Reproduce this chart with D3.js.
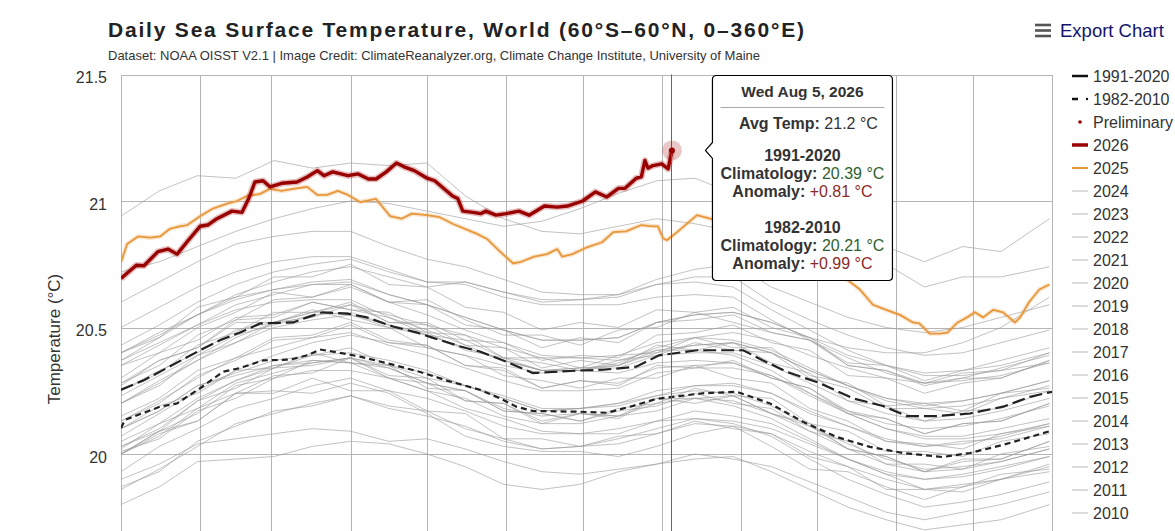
<!DOCTYPE html>
<html><head><meta charset="utf-8">
<script src="https://cdn.jsdelivr.net/npm/d3@7/dist/d3.min.js"></script>
<style>
html,body{margin:0;padding:0;background:#fff;overflow:hidden;}
svg{display:block;font-family:"Liberation Sans",Arial,Helvetica,sans-serif;}
</style></head><body>
<svg id="chart" width="1175" height="531"></svg>
<script>
// ---------------- DATA ----------------
const titleText = "Daily Sea Surface Temperature, World (60°S–60°N, 0–360°E)";
const subtitleText = "Dataset: NOAA OISST V2.1 | Image Credit: ClimateReanalyzer.org, Climate Change Institute, University of Maine";
const yTicks = [20, 20.5, 21, 21.5];
const monthStartDays = [0,31,59,90,120,151,181,212,243,273,304,334,365];
const sampleDays = [0,15,30,45,60,75,90,105,120,135,150,165,180,195,210,225,240,255,270,285,300,315,330,345,364];

// [day of year, °C]
const series2026 = [[0,20.694],[6,20.746],[9,20.744],[14.5,20.80],[18.4,20.81],[22,20.79],[26,20.84],[31,20.90],[34,20.905],[37.6,20.93],[43.5,20.96],[47.4,20.955],[50,21.008],[52.5,21.075],[55.7,21.08],[58.4,21.056],[63,21.07],[69,21.075],[73,21.095],[77,21.12],[79.6,21.10],[83,21.115],[89,21.10],[93,21.107],[97,21.087],[100,21.087],[104,21.115],[108,21.15],[111,21.135],[115,21.12],[120,21.09],[123,21.08],[130,21.02],[132,21.01],[134,20.96],[138,20.955],[141,20.95],[143,20.96],[147,20.944],[151,20.95],[156,20.96],[160,20.944],[166,20.98],[171,20.976],[175,20.98],[181,21.0],[186,21.036],[190.5,21.016],[195,21.05],[197.6,21.05],[202,21.09],[204,21.095],[205.4,21.16],[206.6,21.13],[208.6,21.14],[212,21.147],[214.5,21.127],[216,21.20]];

const series2025 = [[0,20.758],[2.4,20.83],[6.7,20.86],[11.4,20.855],[15.3,20.86],[19.2,20.89],[23,20.90],[26,20.905],[31,20.94],[36,20.97],[41.6,20.99],[45.5,21.0],[49.4,21.02],[54.5,21.028],[58.4,21.048],[63,21.04],[67.4,21.048],[73,21.056],[77,21.024],[80.8,21.024],[85,21.04],[89,21.024],[93.7,20.996],[100,21.008],[105.5,20.94],[110,20.93],[114,20.95],[120,20.944],[125,20.936],[130,20.91],[139.6,20.87],[143.5,20.85],[148.6,20.80],[153.7,20.754],[156.4,20.758],[162,20.78],[167,20.79],[171,20.81],[173,20.78],[177,20.79],[182.7,20.817],[188.6,20.837],[193,20.877],[198,20.88],[204,20.905],[208.6,20.90],[210.5,20.90],[212.5,20.853],[214,20.845],[218,20.877],[225.8,20.944],[231,20.93],[243,20.90],[254,20.85],[266,20.80],[278,20.74],[284.6,20.69],[289.7,20.65],[294.8,20.59],[300,20.57],[305.4,20.55],[310.5,20.52],[313,20.516],[317,20.476],[321,20.476],[324,20.48],[328,20.52],[331.7,20.54],[334.8,20.56],[338,20.54],[342,20.57],[345.8,20.56],[350.5,20.52],[352.5,20.54],[356,20.6],[360,20.65],[364,20.67]];

const clim1991_2020 = [[0,20.254],[8.6,20.29],[18,20.34],[31,20.41],[38.8,20.45],[46.7,20.48],[54.5,20.516],[67.4,20.52],[73,20.54],[79,20.56],[88.6,20.555],[96.4,20.54],[106.6,20.504],[116,20.48],[122,20.46],[133,20.425],[140.7,20.405],[151,20.365],[161.5,20.32],[180,20.33],[189,20.333],[202,20.345],[211,20.39],[225.8,20.41],[243.9,20.41],[251.7,20.37],[261,20.325],[274,20.28],[287,20.22],[298.7,20.19],[308,20.15],[320,20.15],[332.8,20.16],[345.8,20.187],[356.4,20.226],[365,20.246]];

const clim1982_2010 = [[0,20.103],[1.6,20.135],[4.7,20.147],[15.3,20.187],[22,20.20],[31,20.26],[40,20.325],[46.7,20.34],[55.7,20.37],[66.3,20.373],[73,20.39],[78,20.413],[85.9,20.40],[93.7,20.385],[106.6,20.353],[117,20.325],[127.8,20.29],[140.7,20.254],[148.6,20.22],[155,20.187],[161.5,20.17],[180,20.167],[190.5,20.163],[199.6,20.187],[210,20.218],[228,20.24],[241.5,20.246],[254.4,20.20],[267.4,20.127],[280.7,20.067],[293.6,20.028],[306.6,20.004],[322,19.988],[332.8,20.004],[345.8,20.036],[356.4,20.067],[364,20.09]];

// other years, values at sampleDays
const grayYears = [2024,2023,2022,2021,2020,2019,2018,2017,2016,2015,2014,2013,2012,2011,2010,2009,2008,2007,2006,2005,2004,2003,2002,2001,2000,1999,1998,1997,1996,1995,1994,1993,1992,1991,1990,1989,1988,1987,1986,1985,1984,1983,1982];
const grayTemps = [
[20.94,21.04,21.10,21.09,21.16,21.13,21.15,21.14,21.15,21.02,20.93,20.88,20.87,20.90,20.93,20.91,20.88,20.84,20.80,20.77,20.75,20.66,20.70,20.70,20.74],
[20.72,20.76,20.82,20.88,20.93,20.97,21.00,20.99,20.96,20.93,20.90,20.92,20.97,21.03,21.08,21.09,21.03,20.95,20.88,20.84,20.82,20.76,20.82,20.80,20.93],
[20.40,20.48,20.55,20.62,20.65,20.68,20.69,20.63,20.59,20.54,20.49,20.45,20.45,20.46,20.52,20.55,20.56,20.52,20.46,20.42,20.40,20.40,20.44,20.50,20.62],
[20.35,20.40,20.50,20.56,20.64,20.62,20.66,20.60,20.61,20.53,20.47,20.47,20.43,20.49,20.50,20.56,20.52,20.48,20.45,20.36,20.35,20.29,20.33,20.35,20.40],
[20.50,20.58,20.66,20.72,20.76,20.78,20.78,20.73,20.68,20.67,20.62,20.59,20.59,20.59,20.62,20.63,20.62,20.53,20.45,20.38,20.32,20.28,20.29,20.31,20.36],
[20.43,20.51,20.60,20.67,20.72,20.75,20.77,20.72,20.68,20.68,20.64,20.61,20.61,20.62,20.67,20.70,20.70,20.60,20.53,20.47,20.42,20.39,20.40,20.44,20.49],
[20.35,20.43,20.51,20.59,20.63,20.67,20.68,20.63,20.59,20.54,20.49,20.45,20.45,20.46,20.52,20.55,20.56,20.52,20.46,20.39,20.35,20.32,20.33,20.37,20.42],
[20.40,20.46,20.58,20.62,20.70,20.70,20.75,20.67,20.66,20.58,20.56,20.49,20.52,20.50,20.57,20.56,20.58,20.50,20.46,20.35,20.33,20.27,20.30,20.30,20.37],
[20.60,20.68,20.76,20.83,20.86,20.88,20.88,20.82,20.77,20.74,20.69,20.64,20.63,20.63,20.67,20.68,20.66,20.57,20.49,20.41,20.35,20.31,20.31,20.33,20.36],
[20.37,20.46,20.55,20.63,20.68,20.72,20.74,20.70,20.66,20.68,20.64,20.60,20.61,20.63,20.69,20.73,20.75,20.66,20.60,20.54,20.50,20.48,20.50,20.54,20.59],
[20.28,20.35,20.47,20.53,20.61,20.62,20.67,20.60,20.59,20.51,20.49,20.42,20.46,20.44,20.52,20.53,20.55,20.48,20.45,20.35,20.33,20.28,20.32,20.33,20.40],
[20.27,20.37,20.42,20.53,20.54,20.60,20.57,20.56,20.48,20.47,20.38,20.38,20.34,20.39,20.40,20.46,20.42,20.42,20.31,20.28,20.19,20.20,20.17,20.24,20.26],
[20.20,20.29,20.37,20.46,20.52,20.56,20.59,20.55,20.51,20.47,20.42,20.38,20.38,20.39,20.44,20.46,20.45,20.41,20.34,20.27,20.21,20.18,20.19,20.22,20.27],
[20.13,20.20,20.31,20.37,20.45,20.46,20.51,20.44,20.43,20.35,20.33,20.26,20.29,20.27,20.35,20.34,20.37,20.30,20.26,20.16,20.14,20.08,20.12,20.13,20.20],
[20.37,20.44,20.51,20.57,20.60,20.61,20.61,20.54,20.49,20.43,20.37,20.33,20.33,20.32,20.36,20.37,20.36,20.31,20.23,20.16,20.10,20.07,20.07,20.10,20.14],
[20.20,20.27,20.39,20.44,20.52,20.54,20.59,20.52,20.52,20.45,20.44,20.37,20.39,20.38,20.47,20.48,20.51,20.44,20.41,20.31,20.30,20.24,20.28,20.30,20.37],
[20.13,20.21,20.30,20.38,20.42,20.46,20.48,20.43,20.39,20.34,20.29,20.25,20.25,20.26,20.32,20.34,20.34,20.31,20.24,20.17,20.12,20.10,20.11,20.14,20.19],
[20.28,20.37,20.42,20.52,20.52,20.57,20.53,20.50,20.42,20.39,20.31,20.29,20.26,20.30,20.30,20.35,20.30,20.28,20.18,20.13,20.05,20.04,20.02,20.08,20.11],
[20.23,20.31,20.39,20.47,20.51,20.55,20.56,20.51,20.47,20.42,20.37,20.33,20.33,20.35,20.40,20.43,20.44,20.40,20.33,20.27,20.22,20.19,20.21,20.24,20.29],
[20.25,20.32,20.43,20.48,20.56,20.56,20.60,20.52,20.51,20.43,20.42,20.34,20.37,20.35,20.43,20.41,20.44,20.36,20.32,20.21,20.19,20.13,20.17,20.18,20.25],
[20.25,20.33,20.40,20.49,20.52,20.56,20.55,20.51,20.48,20.41,20.38,20.33,20.34,20.34,20.39,20.40,20.40,20.35,20.28,20.21,20.16,20.13,20.14,20.17,20.22],
[20.30,20.40,20.45,20.54,20.55,20.60,20.57,20.54,20.47,20.45,20.38,20.36,20.33,20.37,20.39,20.44,20.41,20.40,20.30,20.26,20.18,20.18,20.16,20.22,20.25],
[20.20,20.28,20.37,20.44,20.50,20.53,20.55,20.50,20.47,20.42,20.37,20.33,20.34,20.35,20.41,20.43,20.44,20.40,20.33,20.27,20.22,20.20,20.21,20.24,20.29],
[20.15,20.22,20.33,20.38,20.46,20.47,20.52,20.45,20.43,20.35,20.34,20.26,20.29,20.28,20.34,20.35,20.36,20.30,20.26,20.17,20.14,20.08,20.12,20.13,20.20],
[20.03,20.10,20.21,20.29,20.34,20.39,20.40,20.37,20.33,20.27,20.23,20.18,20.18,20.20,20.25,20.27,20.27,20.24,20.17,20.11,20.05,20.03,20.04,20.07,20.12],
[20.10,20.19,20.24,20.33,20.34,20.40,20.36,20.34,20.28,20.25,20.17,20.16,20.13,20.17,20.19,20.24,20.20,20.18,20.09,20.05,19.96,19.96,19.94,20.00,20.03],
[20.40,20.47,20.55,20.61,20.65,20.67,20.67,20.60,20.55,20.49,20.44,20.39,20.38,20.37,20.41,20.41,20.39,20.33,20.24,20.16,20.10,20.06,20.06,20.08,20.12],
[20.07,20.16,20.25,20.33,20.39,20.44,20.47,20.44,20.42,20.39,20.35,20.32,20.33,20.36,20.42,20.46,20.48,20.45,20.39,20.34,20.30,20.28,20.30,20.34,20.39],
[20.03,20.09,20.21,20.26,20.34,20.35,20.38,20.31,20.30,20.21,20.20,20.13,20.16,20.14,20.22,20.20,20.23,20.16,20.11,20.02,19.99,19.93,19.97,19.98,20.05],
[20.10,20.17,20.27,20.32,20.37,20.39,20.42,20.35,20.32,20.27,20.22,20.17,20.18,20.19,20.23,20.25,20.24,20.19,20.11,20.04,19.98,19.94,19.95,19.97,20.02],
[20.00,20.09,20.16,20.27,20.30,20.37,20.36,20.35,20.26,20.25,20.17,20.16,20.13,20.18,20.20,20.26,20.23,20.22,20.12,20.09,20.01,20.01,19.99,20.05,20.08],
[19.93,20.03,20.10,20.18,20.22,20.27,20.30,20.25,20.22,20.17,20.11,20.08,20.08,20.10,20.13,20.17,20.15,20.12,20.05,19.98,19.93,19.90,19.91,19.94,19.99],
[20.00,20.08,20.13,20.24,20.24,20.30,20.25,20.25,20.17,20.16,20.06,20.06,20.03,20.07,20.08,20.13,20.10,20.08,19.99,19.95,19.86,19.86,19.85,19.90,19.93],
[20.05,20.12,20.22,20.29,20.35,20.36,20.38,20.34,20.28,20.25,20.18,20.15,20.16,20.15,20.20,20.22,20.21,20.16,20.09,20.02,19.96,19.93,19.94,19.97,20.02],
[20.00,20.07,20.18,20.24,20.31,20.32,20.38,20.30,20.28,20.21,20.20,20.12,20.16,20.15,20.22,20.22,20.23,20.16,20.12,20.02,19.99,19.93,19.98,19.98,20.05],
[19.87,19.93,20.05,20.11,20.17,20.19,20.23,20.18,20.15,20.11,20.05,20.02,20.03,20.04,20.08,20.12,20.11,20.08,20.01,19.95,19.90,19.86,19.88,19.90,19.96],
[20.10,20.17,20.27,20.31,20.35,20.37,20.36,20.30,20.25,20.18,20.14,20.09,20.08,20.08,20.13,20.14,20.12,20.07,19.98,19.90,19.84,19.79,19.81,19.84,19.89],
[20.02,20.12,20.18,20.28,20.32,20.36,20.38,20.35,20.30,20.27,20.22,20.17,20.18,20.20,20.23,20.27,20.28,20.24,20.16,20.11,20.06,20.03,20.05,20.06,20.11],
[19.86,19.94,20.03,20.12,20.16,20.20,20.23,20.19,20.17,20.10,20.06,20.02,20.03,20.06,20.10,20.14,20.13,20.10,20.04,19.98,19.92,19.90,19.92,19.95,19.99],
[19.80,19.87,19.97,19.98,19.99,20.03,20.05,20.04,20.00,19.95,19.88,19.86,19.88,19.93,19.96,20.00,19.98,19.95,19.89,19.83,19.77,19.74,19.77,19.80,19.85],
[19.90,19.96,20.04,20.06,20.08,20.10,20.09,20.05,20.06,20.02,19.97,19.93,19.92,19.94,19.96,19.98,19.99,19.93,19.86,19.79,19.74,19.70,19.72,19.74,19.80],
[20.01,20.06,20.17,20.22,20.30,20.33,20.33,20.30,20.25,20.22,20.15,20.12,20.12,20.15,20.17,20.22,20.19,20.14,20.06,19.98,19.92,19.86,19.87,19.90,19.95],
[20.00,20.09,20.13,20.24,20.25,20.24,20.28,20.24,20.16,20.07,20.03,20.01,20.01,19.99,20.03,20.08,20.11,20.03,19.94,19.93,19.87,19.82,19.87,19.92,19.94]
];

// tooltip content
const tipDate = "Wed Aug 5, 2026";
const tipDay = 216;
const tipAvg = 21.2;
const tipClim9120 = 20.39;
const tipClim8210 = 20.21;

// ---------------- LAYOUT ----------------
const W = 1175, H = 531;
const svg = d3.select("#chart");
const plot = {left: 121, right: 1052, top: 74.5, bottom: 580.5};
const x = d3.scaleLinear().domain([0, 365]).range([plot.left, plot.right]);
const y = d3.scaleLinear().domain([19.5, 21.5]).range([plot.bottom, plot.top]);
const col = {text:"#333", grid:"#b5b5b5", red:"#990000", orange:"#e8973a", gray:"#9a9a9a", clim:"#222"};

// title
svg.append("text").attr("x", 108).attr("y", 37).attr("font-size", 21).attr("font-weight", "bold")
  .attr("letter-spacing", "1.8px").attr("fill", "#222").text(titleText);
svg.append("text").attr("x", 108).attr("y", 60).attr("font-size", 13).attr("fill", "#333").text(subtitleText);

// export button
const exp = svg.append("g");
[25, 30.5, 36].forEach(yy => exp.append("rect").attr("x", 1035).attr("y", yy - 1.3).attr("width", 16).attr("height", 2.6).attr("fill", "#555"));
exp.append("text").attr("x", 1060).attr("y", 37).attr("font-size", 18.5).attr("fill", "#14146e").text("Export Chart");

// grid
svg.append("g").attr("transform", `translate(0,${plot.bottom})`)
  .call(d3.axisBottom(x).tickValues(monthStartDays).tickSize(-(plot.bottom - plot.top)).tickFormat(""))
  .call(g => g.select(".domain").remove())
  .call(g => g.selectAll(".tick line").attr("stroke", col.grid).attr("stroke-width", 1).attr("shape-rendering", "crispEdges"));

svg.append("g").attr("transform", `translate(${plot.left},0)`)
  .call(d3.axisLeft(y).tickValues(yTicks).tickSize(-(plot.right - plot.left)).tickPadding(14).tickFormat(d3.format("")))
  .call(g => g.select(".domain").remove())
  .call(g => g.selectAll(".tick line").attr("stroke", col.grid).attr("stroke-width", 1).attr("shape-rendering", "crispEdges"))
  .call(g => g.selectAll(".tick text").attr("font-size", 16).attr("fill", col.text).attr("dy", "0.5em")
      .attr("font-family", "'Liberation Sans',Arial,sans-serif"));

svg.append("text").attr("transform", "translate(60,339) rotate(-90)").attr("text-anchor", "middle")
  .attr("font-size", 17).attr("fill", col.text).text("Temperature (°C)");

// clip
svg.append("clipPath").attr("id", "clip").append("rect")
  .attr("x", plot.left).attr("y", plot.top - 5).attr("width", plot.right - plot.left).attr("height", plot.bottom - plot.top + 5);
const plotG = svg.append("g").attr("clip-path", "url(#clip)");

const linePairs = d3.line().x(d => x(d[0])).y(d => y(d[1]));
const lineSampled = d3.line().x((d, i) => x(sampleDays[i])).y(d => y(d));

// gray years, oldest first (underneath)
plotG.append("g").selectAll("path").data(grayTemps.slice().reverse()).join("path")
  .attr("d", d => lineSampled(d)).attr("fill", "none").attr("stroke", col.gray)
  .attr("stroke-opacity", 0.6).attr("stroke-width", 1);

// climatologies
plotG.append("path").attr("d", linePairs(clim1982_2010)).attr("fill", "none")
  .attr("stroke", col.clim).attr("stroke-width", 2.2).attr("stroke-dasharray", "6,4");
plotG.append("path").attr("d", linePairs(clim1991_2020)).attr("fill", "none")
  .attr("stroke", col.clim).attr("stroke-width", 2.2).attr("stroke-dasharray", "13,5");

// 2025
plotG.append("path").attr("d", linePairs(series2025)).attr("fill", "none")
  .attr("stroke", col.orange).attr("stroke-opacity", 0.25).attr("stroke-width", 4.5).attr("stroke-linejoin", "round");
plotG.append("path").attr("d", linePairs(series2025)).attr("fill", "none")
  .attr("stroke", col.orange).attr("stroke-width", 1.8).attr("stroke-linejoin", "round");

// 2026
plotG.append("path").attr("d", linePairs(series2026)).attr("fill", "none")
  .attr("stroke", col.red).attr("stroke-opacity", 0.25).attr("stroke-width", 6.5).attr("stroke-linejoin", "round");
plotG.append("path").attr("d", linePairs(series2026)).attr("fill", "none")
  .attr("stroke", col.red).attr("stroke-width", 3.4).attr("stroke-linejoin", "round");

// crosshair
const px = x(tipDay), py = y(tipAvg);
svg.append("line").attr("x1", Math.round(px) - 0.5).attr("x2", Math.round(px) - 0.5)
  .attr("y1", plot.top).attr("y2", plot.bottom).attr("stroke", "#666").attr("stroke-width", 1);

// marker
svg.append("circle").attr("cx", px).attr("cy", py).attr("r", 10).attr("fill", col.red).attr("fill-opacity", 0.22);
svg.append("circle").attr("cx", px).attr("cy", py).attr("r", 3).attr("fill", col.red);

// tooltip
const bx = px + 40.5, by = 75.5, bw = 180, bh = 205, r = 4, ay = py;
const tipPath = `M${bx + r},${by} H${bx + bw - r} Q${bx + bw},${by} ${bx + bw},${by + r} V${by + bh - r} Q${bx + bw},${by + bh} ${bx + bw - r},${by + bh} H${bx + r} Q${bx},${by + bh} ${bx},${by + bh - r} V${ay + 8} L${bx - 7},${ay} L${bx},${ay - 8} V${by + r} Q${bx},${by} ${bx + r},${by} Z`;
const tip = svg.append("g");
tip.append("path").attr("d", tipPath).attr("fill", "#fff").attr("stroke", "#000").attr("stroke-width", 1.2);
const cx = bx + bw / 2;
tip.append("text").attr("x", cx).attr("y", by + 21).attr("text-anchor", "middle").attr("font-size", 15.5)
  .attr("font-weight", "bold").attr("fill", col.text).text(tipDate);
tip.append("line").attr("x1", bx + 8).attr("x2", bx + bw - 8).attr("y1", by + 32).attr("y2", by + 32).attr("stroke", "#aaa");
const fmt2 = d3.format(".2f");
function row(yy, label, value, color, dx) {
  const t = tip.append("text").attr("x", cx + (dx || 0)).attr("y", yy).attr("text-anchor", "middle").attr("font-size", 16).attr("fill", col.text);
  t.append("tspan").attr("font-weight", "bold").text(label + " ");
  t.append("tspan").attr("fill", color).text(value);
}
function head(yy, label) {
  tip.append("text").attr("x", cx).attr("y", yy).attr("text-anchor", "middle").attr("font-size", 16)
    .attr("font-weight", "bold").attr("fill", col.text).text(label);
}
row(by + 53, "Avg Temp:", tipAvg.toFixed(1) + " °C", col.text, 6);
head(by + 85.5, "1991-2020");
row(by + 103.5, "Climatology:", fmt2(tipClim9120) + " °C", "#2f5f2f");
row(by + 121.5, "Anomaly:", "+" + fmt2(tipAvg - tipClim9120) + " °C", "#8b2a2a");
head(by + 157.5, "1982-2010");
row(by + 175.5, "Climatology:", fmt2(tipClim8210) + " °C", "#2f5f2f");
row(by + 193, "Anomaly:", "+" + fmt2(tipAvg - tipClim8210) + " °C", "#8b2a2a");

// legend (only the rows that fit in the visible frame, as in the reference)
const legendItems = [
  {name: "1991-2020", type: "line", color: "#111", w: 2.5},
  {name: "1982-2010", type: "dash", color: "#111", w: 2.5},
  {name: "Preliminary", type: "dot", color: col.red},
  {name: "2026", type: "line", color: col.red, w: 3.5},
  {name: "2025", type: "line", color: col.orange, w: 2}
].concat(grayYears.map(yr => ({name: String(yr), type: "line", color: "#cfcfcf", w: 1.5})));
const legendTop = 76, legendStep = 23;
const visibleLegend = legendItems.filter((it, i) => legendTop + i * legendStep + 10 <= H);
const lg = svg.append("g");
visibleLegend.forEach((it, i) => {
  const yy = legendTop + i * legendStep;
  if (it.type === "line") {
    lg.append("line").attr("x1", 1072).attr("x2", 1088).attr("y1", yy).attr("y2", yy).attr("stroke", it.color).attr("stroke-width", it.w);
  } else if (it.type === "dash") {
    lg.append("line").attr("x1", 1072).attr("x2", 1082).attr("y1", yy).attr("y2", yy).attr("stroke", it.color).attr("stroke-width", it.w).attr("stroke-dasharray", "6,4");
    lg.append("circle").attr("cx", 1087).attr("cy", yy).attr("r", 1.2).attr("fill", it.color);
  } else {
    lg.append("circle").attr("cx", 1080).attr("cy", yy).attr("r", 1.8).attr("fill", it.color);
  }
  lg.append("text").attr("x", 1093).attr("y", yy).attr("dy", "0.35em").attr("font-size", 16).attr("fill", col.text).text(it.name);
});
</script>
</body></html>
